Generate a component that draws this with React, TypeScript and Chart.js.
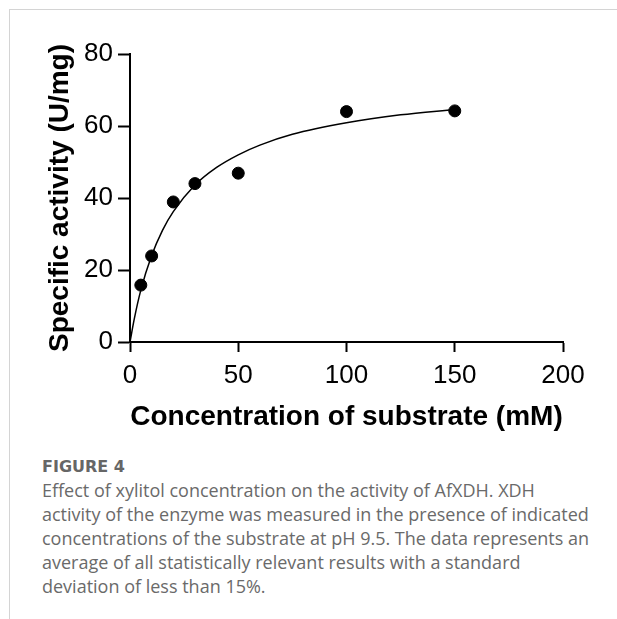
import React, { useEffect, useRef } from "react";
import { Chart, registerables } from "chart.js";

Chart.register(...registerables);

const concentrations = [5, 10, 20, 30, 50, 100, 150];
const activities = [15.8, 23.9, 38.9, 44.0, 46.9, 64.0, 64.2];

const fitX = [0, 2, 5, 10, 15, 20, 30, 40, 50, 60, 75, 100, 125, 150];
const fitY = [0, 6.5, 14.4, 24.0, 31.0, 36.2, 43.6, 48.5, 52.0, 54.7, 57.7, 60.9, 63.1, 64.6];

const xTicks = [0, 50, 100, 150, 200];
const yTicks = [0, 20, 40, 60, 80];

const xTitle = "Concentration of substrate (mM)";
const yTitle = "Specific activity (U/mg)";

const captionHead = "FIGURE 4";
const captionLines = [
  "Effect of xylitol concentration on the activity of AfXDH. XDH",
  "activity of the enzyme was measured in the presence of indicated",
  "concentrations of the substrate at pH 9.5. The data represents an",
  "average of all statistically relevant results with a standard",
  "deviation of less than 15%.",
];

export default function App() {
  const canvasRef = useRef<HTMLCanvasElement | null>(null);

  useEffect(() => {
    const canvas = canvasRef.current;
    if (!canvas) return;
    const tickFont = { family: "'Liberation Sans', Arial, sans-serif", size: 26 };
    const titleFont = { family: "'Liberation Sans', Arial, sans-serif", size: 28, weight: "bold" as const };
    const chart = new Chart(canvas, {
      type: "scatter",
      data: {
        datasets: [
          {
            type: "line",
            label: "fit",
            data: fitX.map((x, i) => ({ x, y: fitY[i] })),
            borderColor: "#000",
            borderWidth: 1.5,
            pointRadius: 0,
            fill: false,
            cubicInterpolationMode: "monotone",
            showLine: true,
          },
          {
            label: "data",
            data: concentrations.map((x, i) => ({ x, y: activities[i] })),
            backgroundColor: "#000",
            borderColor: "#000",
            pointRadius: 6,
            pointHoverRadius: 6,
          },
        ],
      },
      options: {
        animation: false,
        responsive: false,
        maintainAspectRatio: false,
        layout: { padding: { left: 0, right: 54, top: 54, bottom: 0 } },
        plugins: { legend: { display: false }, tooltip: { enabled: false } },
        scales: {
          x: {
            type: "linear",
            min: 0,
            max: 200,
            afterFit: (s: any) => {
              s.height = 98;
            },
            afterBuildTicks: (s: any) => {
              s.ticks = xTicks.map((v) => ({ value: v }));
            },
            border: { color: "#000", width: 2 },
            grid: { drawOnChartArea: false, color: "#000", tickLength: 10, tickWidth: 2, tickColor: "#000" },
            ticks: { color: "#000", font: tickFont, padding: 8, maxRotation: 0 },
            title: { display: true, text: xTitle, color: "#000", font: titleFont, padding: { top: 0, bottom: 6 } },
          },
          y: {
            type: "linear",
            min: 0,
            max: 80,
            afterFit: (s: any) => {
              s.width = 130;
            },
            afterBuildTicks: (s: any) => {
              s.ticks = yTicks.map((v) => ({ value: v }));
            },
            border: { color: "#000", width: 2 },
            grid: { drawOnChartArea: false, color: "#000", tickLength: 12, tickWidth: 2, tickColor: "#000" },
            ticks: { color: "#000", font: tickFont, padding: 5 },
            title: { display: true, text: yTitle, color: "#000", font: titleFont, padding: { top: 43, bottom: 0 } },
          },
        },
      },
    });
    return () => chart.destroy();
  }, []);

  const captionFont = "'Open Sans', 'Noto Sans', sans-serif";

  return (
    <div style={{ position: "absolute", left: 0, top: 0, width: 617, height: 619, background: "#fff", overflow: "hidden" }}>
      <div style={{ position: "absolute", left: 9, top: 9, width: 608, height: 1, background: "#d4d4d4" }} />
      <div style={{ position: "absolute", left: 9, top: 9, width: 1, height: 610, background: "#d4d4d4" }} />
      <canvas ref={canvasRef} width={617} height={440} style={{ position: "absolute", left: 0, top: 0, width: 617, height: 440 }} />
      <div
        style={{
          position: "absolute",
          left: 42,
          top: 455,
          fontFamily: "'DejaVu Sans', sans-serif",
          fontSize: 16,
          fontWeight: 700,
          color: "#666",
          lineHeight: "24px",
          whiteSpace: "nowrap",
        }}
      >
        {captionHead}
      </div>
      <div
        style={{
          position: "absolute",
          left: 42,
          top: 478,
          fontFamily: captionFont,
          fontSize: 18,
          color: "#6a6a6a",
          lineHeight: "24px",
          whiteSpace: "nowrap",
        }}
      >
        {captionLines.map((l, i) => (
          <div key={i}>{l}</div>
        ))}
      </div>
    </div>
  );
}
